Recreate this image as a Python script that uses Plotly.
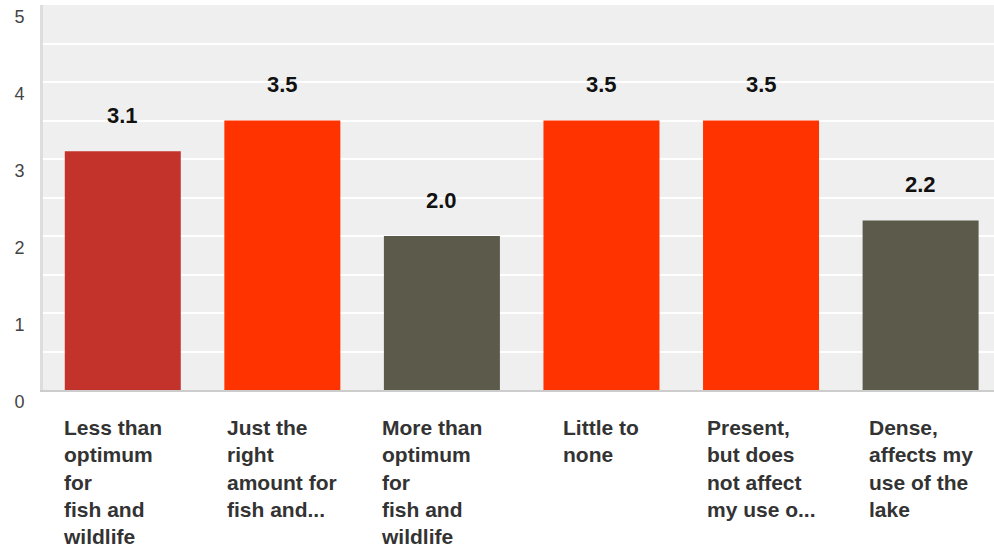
import plotly.graph_objects as go

categories = [
    "Less than<br>optimum<br>for<br>fish and<br>wildlife",
    "Just the<br>right<br>amount for<br>fish and...",
    "More than<br>optimum<br>for<br>fish and<br>wildlife",
    "Little to<br>none",
    "Present,<br>but does<br>not affect<br>my use o...",
    "Dense,<br>affects my<br>use of the<br>lake",
]
values = [3.1, 3.5, 2.0, 3.5, 3.5, 2.2]
value_labels = ["3.1", "3.5", "2.0", "3.5", "3.5", "2.2"]
colors = ["#C4332B", "#FF3300", "#5C5A4B", "#FF3300", "#FF3300", "#5C5A4B"]
y_ticks = [0, 1, 2, 3, 4, 5]
label_xshift = [-10, 0, -10, 0, 0, 0]

x_idx = list(range(len(categories)))

fig = go.Figure()
fig.add_trace(go.Bar(
    x=x_idx, y=values, marker=dict(color=colors, line=dict(width=0)),
    width=0.727, hoverinfo="skip", showlegend=False,
))

annotations = []
for i, (v, t) in enumerate(zip(values, value_labels)):
    annotations.append(dict(
        x=i, y=v, xref="x", yref="y", text=t, showarrow=False,
        yanchor="middle", yshift=36,
        font=dict(family="Liberation Sans, Arial", size=22, color="#111111", weight="bold"),
    ))
for i, c in enumerate(categories):
    annotations.append(dict(
        x=i, y=0, xref="x", yref="y", text=c, showarrow=False,
        xanchor="center", yanchor="top", align="left", yshift=-24,
        xshift=label_xshift[i],
        font=dict(family="Liberation Sans, Arial", size=21, color="#333333", weight="bold"),
    ))

fig.update_layout(
    width=994, height=548,
    margin=dict(l=43, r=0, t=5, b=158, autoexpand=False),
    paper_bgcolor="white", plot_bgcolor="#EFEFEF",
    annotations=annotations,
    xaxis=dict(
        range=[-0.5, 5.46], showticklabels=False, showgrid=False, zeroline=False,
        showline=True, linecolor="#CCCCCC", linewidth=2, fixedrange=True,
        automargin=False,
    ),
    yaxis=dict(
        range=[0, 5], tickvals=y_ticks, ticktext=[str(t) for t in y_ticks],
        showgrid=True, gridcolor="white", gridwidth=2,
        minor=dict(dtick=0.5, showgrid=True, gridcolor="white", gridwidth=2),
        zeroline=False, showline=True, linecolor="#DDDDDD", linewidth=3,
        tickfont=dict(family="Liberation Sans, Arial", size=18, color="#444444"),
        ticklabelshift=12, ticklabelstandoff=12, ticks="",
        ticklabeloverflow="allow",
        automargin=False, fixedrange=True,
    ),
    font=dict(family="Liberation Sans, Arial"),
)

fig.write_html(
    "out.html",
    config={"displayModeBar": False},
    post_script="document.body.style.margin='0';document.body.style.padding='0';",
)
